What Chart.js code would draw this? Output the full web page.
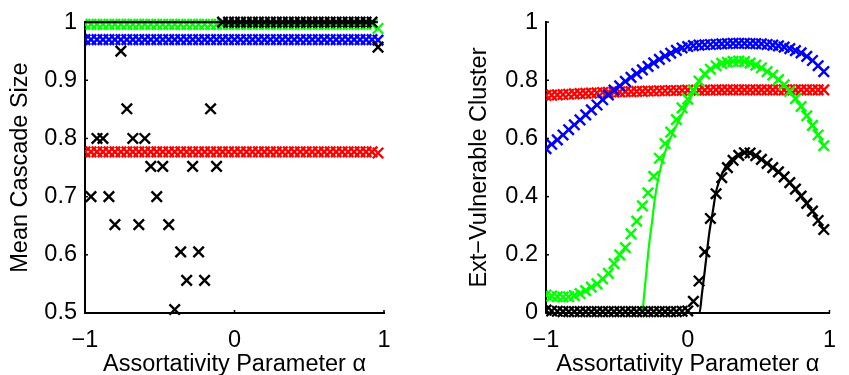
<!DOCTYPE html>
<html><head><meta charset="utf-8">
<script src="https://cdn.jsdelivr.net/npm/chart.js@4"></script>
<style>
html,body{margin:0;padding:0;background:#fff;width:849px;height:375px;overflow:hidden}
#l{position:absolute;left:0;top:0}
#r{position:absolute;left:424px;top:0}
</style></head><body>
<canvas id="l" width="424" height="375"></canvas>
<canvas id="r" width="425" height="375"></canvas>
<script>
// ---- data ----
const alphaGrid = [-1,-0.96,-0.92,-0.88,-0.84,-0.8,-0.76,-0.72,-0.68,-0.64,-0.6,-0.56,-0.52,-0.48,-0.44,-0.4,-0.36,-0.32,-0.28,-0.24,-0.2,-0.16,-0.12,-0.08,-0.04,0,0.04,0.08,0.12,0.16,0.2,0.24,0.28,0.32,0.36,0.4,0.44,0.48,0.52,0.56,0.6,0.64,0.68,0.72,0.76,0.8,0.84,0.88,0.92,0.96];

// Left panel: Mean Cascade Size
const leftRed = [0.777,0.777,0.777,0.777,0.777,0.777,0.777,0.777,0.777,0.777,0.777,0.777,0.777,0.777,0.777,0.777,0.777,0.777,0.777,0.777,0.777,0.777,0.777,0.777,0.777,0.777,0.777,0.777,0.777,0.777,0.777,0.777,0.777,0.777,0.777,0.777,0.777,0.777,0.777,0.777,0.777,0.777,0.777,0.777,0.777,0.777,0.777,0.777,0.777,0.775];
const leftBlue = [0.970,0.970,0.970,0.970,0.970,0.970,0.970,0.970,0.970,0.970,0.970,0.970,0.970,0.970,0.970,0.970,0.970,0.970,0.970,0.970,0.970,0.970,0.970,0.970,0.970,0.970,0.970,0.970,0.970,0.970,0.970,0.970,0.970,0.970,0.970,0.970,0.970,0.970,0.970,0.970,0.970,0.970,0.970,0.970,0.970,0.970,0.970,0.970,0.970,0.969];
const leftGreen = [0.996,0.996,0.996,0.996,0.996,0.996,0.996,0.996,0.996,0.996,0.996,0.996,0.996,0.996,0.996,0.996,0.996,0.996,0.996,0.996,0.996,0.996,0.996,0.996,0.996,0.996,0.996,0.996,0.996,0.996,0.996,0.996,0.996,0.996,0.996,0.996,0.996,0.996,0.996,0.996,0.996,0.996,0.996,0.996,0.996,0.996,0.996,0.996,0.996,0.989];
const leftBlack = [null,0.70,0.80,0.80,0.70,0.652,0.95,0.851,0.80,0.652,0.80,0.752,0.70,0.752,0.652,0.506,0.605,0.556,0.752,0.605,0.556,0.851,0.752,1,1,1,1,1,1,1,1,1,1,1,1,1,1,1,1,1,1,1,1,1,1,1,1,1,1,0.957];
const leftBlackTheoryX = [-1,0.96];
const leftBlackTheoryY = [1,1];

// Right panel: Ext-Vulnerable Cluster
const rightRed = [0.748,0.749,0.750,0.751,0.752,0.753,0.754,0.755,0.756,0.757,0.758,0.759,0.759,0.760,0.761,0.761,0.762,0.762,0.763,0.763,0.764,0.764,0.765,0.765,0.765,0.766,0.766,0.766,0.766,0.766,0.767,0.767,0.767,0.767,0.767,0.767,0.767,0.767,0.767,0.767,0.767,0.767,0.767,0.767,0.767,0.767,0.767,0.767,0.767,0.767];
const rightBlue = [0.565,0.580,0.595,0.612,0.630,0.647,0.664,0.681,0.698,0.715,0.733,0.750,0.766,0.781,0.796,0.810,0.823,0.836,0.848,0.860,0.872,0.883,0.893,0.903,0.911,0.916,0.919,0.921,0.922,0.923,0.924,0.925,0.926,0.927,0.927,0.927,0.926,0.926,0.925,0.923,0.921,0.918,0.914,0.909,0.902,0.894,0.882,0.868,0.850,0.830];
const rightGreen = [0.062,0.058,0.056,0.055,0.056,0.060,0.067,0.077,0.089,0.100,0.117,0.136,0.170,0.200,0.225,0.272,0.316,0.368,0.413,0.470,0.532,0.582,0.622,0.665,0.705,0.735,0.765,0.797,0.822,0.838,0.850,0.858,0.862,0.865,0.866,0.864,0.859,0.852,0.843,0.830,0.818,0.802,0.784,0.762,0.737,0.710,0.678,0.645,0.612,0.575];
const rightBlack = [0.010,0.007,0.006,0.005,0.005,0.005,0.005,0.005,0.005,0.005,0.005,0.005,0.005,0.005,0.005,0.005,0.005,0.005,0.005,0.005,0.005,0.005,0.005,0.005,0.006,0.007,0.040,0.110,0.210,0.325,0.410,0.465,0.500,0.525,0.542,0.551,0.550,0.541,0.528,0.514,0.500,0.485,0.468,0.448,0.426,0.402,0.377,0.350,0.318,0.287];
const rightGreenTheoryX = [-1,-0.32,-0.31,-0.30,-0.29,-0.275,-0.25,-0.23,-0.2,-0.16,-0.12,-0.08,-0.04,0,0.04,0.08,0.12,0.16,0.2,0.24,0.28,0.32,0.36,0.4,0.44,0.48,0.52,0.56,0.6,0.64,0.68,0.72,0.76,0.8,0.84,0.88,0.92,0.96];
const rightGreenTheoryY = [0,0,0.05,0.10,0.15,0.225,0.32,0.40,0.48,0.553,0.603,0.645,0.683,0.72,0.759,0.795,0.82,0.838,0.85,0.858,0.862,0.865,0.866,0.864,0.859,0.852,0.843,0.83,0.818,0.802,0.784,0.762,0.737,0.71,0.678,0.645,0.612,0.575];
const rightBlackTheoryX = [-1,0.083,0.10,0.12,0.153,0.176,0.198,0.22,0.243,0.28,0.32,0.36,0.4,0.44,0.48,0.52,0.56,0.6,0.64,0.68,0.72,0.76,0.8,0.84,0.88,0.92,0.96];
const rightBlackTheoryY = [0,0,0.065,0.144,0.279,0.346,0.413,0.45,0.48,0.512,0.532,0.547,0.553,0.549,0.541,0.528,0.514,0.5,0.485,0.468,0.448,0.426,0.402,0.377,0.35,0.318,0.287];

// ticks
const xTicks = [-1,0,1];
const xTickLabels = ['\u22121','0','1'];
const yTicksLeft = [0.5,0.6,0.7,0.8,0.9,1];
const yTickLabelsLeft = ['0.5','0.6','0.7','0.8','0.9','1'];
const yTicksRight = [0,0.2,0.4,0.6,0.8,1];
const yTickLabelsRight = ['0','0.2','0.4','0.6','0.8','1'];
const xTitle = 'Assortativity Parameter \u03b1';
const yTitleLeft = 'Mean Cascade Size';
const yTitleRight = 'Ext\u2212Vulnerable Cluster';

// ---- helpers ----
const FONT = "'Liberation Sans', Arial, sans-serif";
const FS = 23.5;
const pts = (xs, ys) => xs.map((x, i) => ({x, y: ys[i]}));
const markers = (data, color, order) => ({
  data: pts(alphaGrid, data), showLine: false, order,
  pointStyle: 'crossRot', pointRadius: 7.4, pointBorderWidth: 2.4,
  pointBorderColor: color, pointBackgroundColor: color, borderColor: color,
  clip: {left: 0, top: false, right: false, bottom: false}
});
const theory = (xs, ys, color, order) => ({
  data: pts(xs, ys), showLine: true, order, borderColor: color, borderWidth: 2.2,
  pointRadius: 0, cubicInterpolationMode: 'monotone', fill: false,
  clip: {left: 0, top: false, right: false, bottom: false}
});

const inTicks = {
  id: 'inTicks',
  afterDraw(chart) {
    const {ctx, chartArea: a, scales: {x, y}} = chart;
    ctx.save(); ctx.strokeStyle = '#000'; ctx.lineWidth = 1.5;
    x.ticks.forEach(t => { const p = x.getPixelForValue(t.value); ctx.beginPath(); ctx.moveTo(p, a.bottom); ctx.lineTo(p, a.bottom - 3); ctx.stroke(); });
    y.ticks.forEach(t => { const p = y.getPixelForValue(t.value); ctx.beginPath(); ctx.moveTo(a.left, p); ctx.lineTo(a.left + 3, p); ctx.stroke(); });
    ctx.restore();
  }
};

function makeChart(id, datasets, yMin, yMax, yTicks, yLabels, yTitle, yWidth, yTitlePad, pad) {
  return new Chart(document.getElementById(id), {
    type: 'scatter',
    data: {datasets},
    plugins: [inTicks],
    options: {
      responsive: false, animation: false, events: [],
      layout: {padding: pad},
      plugins: {legend: {display: false}, tooltip: {enabled: false}},
      scales: {
        x: {
          type: 'linear', min: -1, max: 1,
          afterBuildTicks: s => { s.ticks = xTicks.map(v => ({value: v})); },
          afterFit: s => { s.height = 62; },
          grid: {display: false, drawTicks: false},
          border: {display: true, color: '#000', width: 2},
          ticks: {color: '#000', padding: 13, font: {family: FONT, size: FS}, maxRotation: 0,
                  callback: (v, i) => xTickLabels[i]},
          title: {display: true, text: xTitle, color: '#000', padding: {top: 0, bottom: -1},
                  font: {family: FONT, size: FS, lineHeight: 1}}
        },
        y: {
          type: 'linear', min: yMin, max: yMax,
          afterBuildTicks: s => { s.ticks = yTicks.map(v => ({value: v})); },
          afterFit: s => { s.width = yWidth; },
          grid: {display: false, drawTicks: false},
          border: {display: true, color: '#000', width: 2},
          ticks: {color: '#000', padding: 8, font: {family: FONT, size: FS},
                  callback: (v, i) => yLabels[i]},
          title: {display: true, text: yTitle, color: '#000', padding: {top: yTitlePad, bottom: 0},
                  font: {family: FONT, size: FS, lineHeight: 1}}
        }
      }
    }
  });
}

makeChart('l', [
  theory(leftBlackTheoryX, leftBlackTheoryY, '#000000', 1),
  markers(leftBlack, '#000000', 2),
  markers(leftGreen, '#00ff00', 3),
  markers(leftBlue, '#0000ff', 4),
  markers(leftRed, '#ff0000', 5)
], 0.5, 1, yTicksLeft, yTickLabelsLeft, yTitleLeft, 85, 8.5, {left: 0, right: 40, top: 16, bottom: 0});

makeChart('r', [
  theory(rightBlackTheoryX, rightBlackTheoryY, '#000000', 1),
  markers(rightBlack, '#000000', 2),
  theory(rightGreenTheoryX, rightGreenTheoryY, '#00ff00', 3),
  markers(rightGreen, '#00ff00', 4),
  markers(rightBlue, '#0000ff', 5),
  markers(rightRed, '#ff0000', 6)
], 0, 1, yTicksRight, yTickLabelsRight, yTitleRight, 122, 43.5, {left: 0, right: 7, top: 15, bottom: 0});
</script>
</body></html>
